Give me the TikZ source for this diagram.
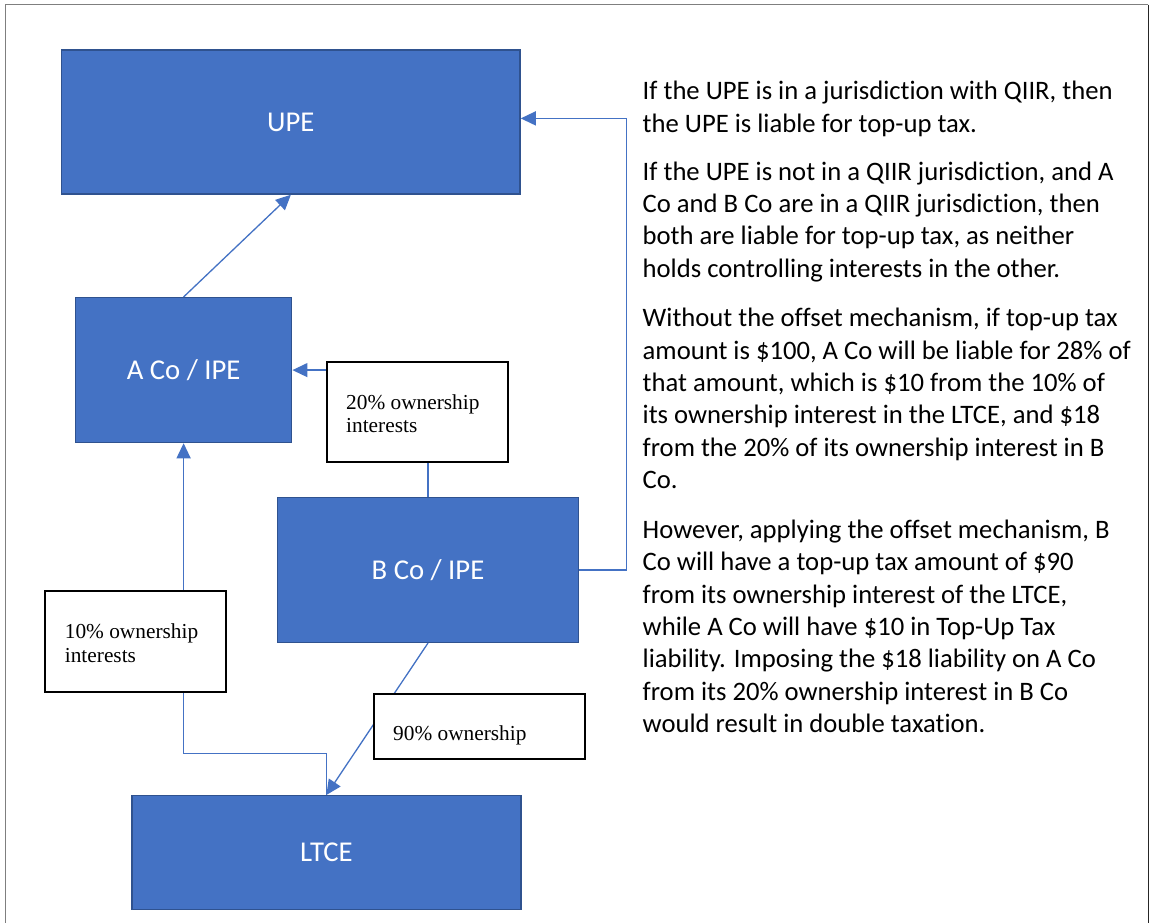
\documentclass[tikz,border=0pt]{standalone}
\usepackage{fontspec}
\setmainfont{Liberation Serif}
\newfontfamily\calib[Ligatures=NoCommon]{Carlito}
\newfontfamily\tnr{Liberation Serif}
\usetikzlibrary{arrows.meta,calc}
\definecolor{boxblue}{HTML}{4472C4}
\definecolor{boxedge}{HTML}{2F528F}
\definecolor{framegray}{HTML}{7F7F7F}

\newlength\mwA \newlength\mwB \newlength\mwC
\newcommand\bodyfnt{\calib\fontsize{\bodysz pt}{32.4pt}\selectfont}
\newcommand\lblfnt{\tnr\fontsize{\lblsz pt}{23.7pt}\selectfont}
\newcommand\boxfnt{\calib\fontsize{\boxsz pt}{\boxsz pt}\selectfont}
\newcommand\paralines[1]{\vtop{\hsize=520pt\parindent=0pt\raggedright #1\par}}

\tikzset{
  ent/.style={draw=boxedge, fill=boxblue, line width=1.5pt, text=white,
    font=\boxfnt, inner sep=0pt, text height=\capht pt, text depth=-3pt},
  lblbox/.style={draw=black, fill=white, line width=1.8pt, inner sep=0pt},
  lbltxt/.style={font=\lblfnt, inner sep=0pt, anchor=base west},
  para/.style={font=\bodyfnt, inner sep=0pt, anchor=base west, text=black},
  conn/.style={draw=boxblue, line width=1.3pt},
  arr/.style={conn, -{Triangle[length=15pt,width=14pt]}}
}

\begin{document}
\settowidth\mwA{\calib\fontsize{10pt}{12pt}\selectfont If the UPE is in a jurisdiction with QIIR, then}%
\settowidth\mwB{\tnr\fontsize{10pt}{12pt}\selectfont 20\% ownership}%
\settowidth\mwC{\calib\fontsize{10pt}{12pt}\selectfont B Co / IPE}%
\pgfmathsetmacro\bodysz{10*470/\mwA}%
\pgfmathsetmacro\lblsz{10*133.3/\mwB}%
\pgfmathsetmacro\boxsz{10*112.7/\mwC}%
\pgfmathsetmacro\capht{0.644*\boxsz}%
\begin{tikzpicture}[x=1pt,y=-1pt]
\useasboundingbox (0,0) rectangle (1149,923);
\fill[white] (0,0) rectangle (1149,923);

% frame
\draw[framegray, line width=1.2pt] (5.7,930) -- (5.7,4.7) -- (1148.3,4.7);
\draw[black!85, line width=1.2pt] (1148.3,4.7) -- (1148.3,930);

% entity boxes
\node[ent, minimum width=458.3pt, minimum height=144pt] (upe) at (290.85,122) {UPE};
\node[ent, minimum width=216.2pt, minimum height=144.8pt] (aco) at (183.6,370.1) {A Co / IPE};
\node[ent, minimum width=300.6pt, minimum height=144.6pt] (bco) at (428,570) {B Co / IPE};
\node[ent, minimum width=389.2pt, minimum height=113.6pt] (ltce) at (326.4,852.5) {LTCE};

% connectors
\draw[arr] (aco.north) -- (upe.south);
\draw[arr] (bco.east) -- ++(47.4,0) |- ($(upe.east)+(0,-3.6)$);
\draw[arr] (bco.north) |- (aco.east);
\draw[arr] (ltce.north) -- ++(0,-41.4) -| (aco.south);
\draw[arr] (bco.south) -- (ltce.north);

% label boxes
\node[lblbox, minimum width=180.7pt, minimum height=100pt, anchor=north west] (b20) at (326.3,361) {};
\node[lbltxt] (t20) at (346,409) {\paralines{20\% ownership\\interests}};
\node[lblbox, minimum width=180.8pt, minimum height=100.7pt, anchor=north west] (b10) at (44,590) {};
\node[lbltxt] (t10) at (64.7,638.3) {\paralines{10\% ownership\\interests}};
\node[lblbox, minimum width=210.7pt, minimum height=65.6pt, anchor=north west] (b90) at (373,692.7) {};
\node[lbltxt] (t90) at (393,740) {90\% ownership};

% explanatory text
\node[para] (p1) at (642.5,100) {\paralines{If the UPE is in a jurisdiction with QIIR, then\\the UPE is liable for top-up tax.}};
\node[para] (p2) at (642.5,180) {\paralines{If the UPE is not in a QIIR jurisdiction, and A\\Co and B Co are in a QIIR jurisdiction, then\\both are liable for top-up tax, as neither\\holds controlling interests in the other.}};
\node[para] (p3) at (642.5,326.7) {\paralines{Without the offset mechanism, if top-up tax\\amount is \$100, A Co will be liable for 28\% of\\that amount, which is \$10 from the 10\% of\\its ownership interest in the LTCE, and \$18\\from the 20\% of its ownership interest in B\\Co.}};
\node[para] (p4) at (642.5,538.3) {\paralines{However, applying the offset mechanism, B\\Co will have a top-up tax amount of \$90\\from its ownership interest of the LTCE,\\while A Co will have \$10 in Top-Up Tax\\liability. Imposing the \$18 liability on A Co\\from its 20\% ownership interest in B Co\\would result in double taxation.}};
\end{tikzpicture}
\end{document}
